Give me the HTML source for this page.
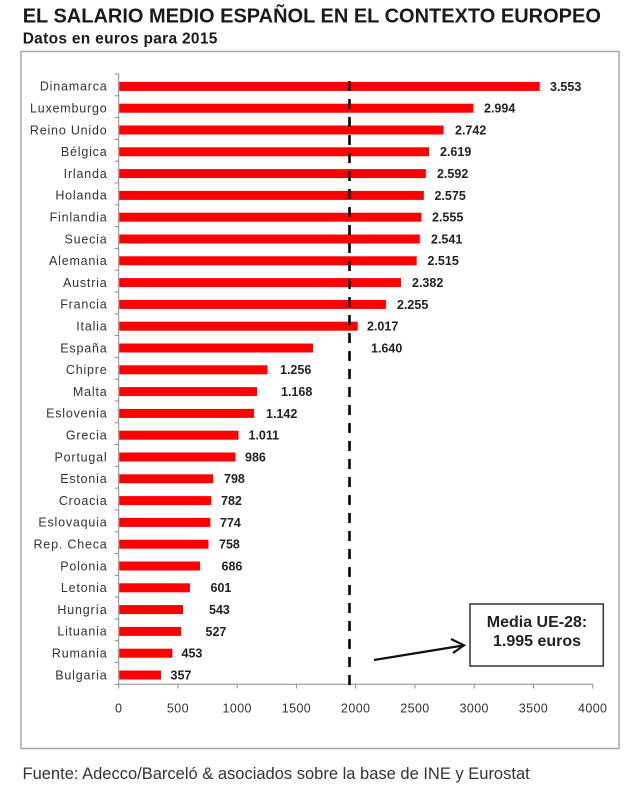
<!DOCTYPE html>
<html><head><meta charset="utf-8"><style>
html,body{margin:0;padding:0;background:#fff;}
svg{display:block;}
text{font-family:"Liberation Sans",Arial,sans-serif;}
</style></head><body>
<svg width="639" height="787" viewBox="0 0 639 787" xmlns="http://www.w3.org/2000/svg">
<rect width="639" height="787" fill="#fff"/>
<text x="22.7" y="22.7" font-size="20" font-weight="bold" fill="#1a1a1a">EL SALARIO MEDIO ESPAÑOL EN EL CONTEXTO EUROPEO</text>
<text x="22.7" y="43.3" font-size="15.5" font-weight="bold" fill="#1a1a1a" letter-spacing="0.3">Datos en euros para 2015</text>
<rect x="21" y="51.5" width="598" height="697" fill="#fff" stroke="#a8a8a8" stroke-width="1.5"/>
<g id="bars" fill="#ff0000"></g>
<g id="axes" stroke="#8c8c8c" stroke-width="1" fill="none">
<line x1="118.7" y1="74" x2="118.7" y2="684.3"/>
<line x1="118.7" y1="684.3" x2="593" y2="684.3"/>
</g>
<g id="content"></g>
<line x1="349.5" y1="685" x2="349.5" y2="74" stroke="#000" stroke-width="2.6" stroke-dasharray="10 8"/>
<rect x="470" y="604" width="133.3" height="62" fill="#fff" stroke="#333" stroke-width="1.5"/>
<text x="537" y="627" font-size="16" font-weight="bold" fill="#222" text-anchor="middle">Media UE-28:</text>
<text x="537" y="646" font-size="16" font-weight="bold" fill="#222" text-anchor="middle">1.995 euros</text>
<line x1="374" y1="660" x2="463" y2="645.5" stroke="#111" stroke-width="2.2"/>
<polyline points="451,639 464,645.3 453,653" fill="none" stroke="#111" stroke-width="2.2"/>
<text x="22.5" y="779" font-size="16.5" fill="#333">Fuente: Adecco/Barceló &amp; asociados sobre la base de INE y Eurostat</text>
</svg>
<script>
(function(){
var ns="http://www.w3.org/2000/svg";
var names=["Dinamarca","Luxemburgo","Reino Unido","Bélgica","Irlanda","Holanda","Finlandia","Suecia","Alemania","Austria","Francia","Italia","España","Chipre","Malta","Eslovenia","Grecia","Portugal","Estonia","Croacia","Eslovaquia","Rep. Checa","Polonia","Letonia","Hungría","Lituania","Rumania","Bulgaria"];
var vals=[3553,2994,2742,2619,2592,2575,2555,2541,2515,2382,2255,2017,1640,1256,1168,1142,1011,986,798,782,774,758,686,601,543,527,453,357];
var lx=[550,484,455,440,437,434.5,432,431,427.5,412,397,367,371,280,281,266,248.5,245,224,221,220,219,221.5,210.5,209,205.5,181.5,170.5];
var bars=document.getElementById("bars"),content=document.getElementById("content"),axes=document.getElementById("axes");
function fmt(v){var s=String(v);return s.length>3?s.slice(0,s.length-3)+"."+s.slice(-3):s;}
var step=21.8;
for(var i=0;i<names.length;i++){
 var c=75.5+step*(i+0.5);
 var w=vals[i]*0.1185;
 var r=document.createElementNS(ns,"rect");
 r.setAttribute("x",119.2);r.setAttribute("y",c-4.5);r.setAttribute("width",w-0.5);r.setAttribute("height",9);
 bars.appendChild(r);
 var t=document.createElementNS(ns,"text");
 t.setAttribute("x",107.5);t.setAttribute("y",c+4.3);t.setAttribute("font-size","12.5");t.setAttribute("fill","#333");
 t.setAttribute("text-anchor","end");t.setAttribute("letter-spacing","0.8");
 t.textContent=names[i];content.appendChild(t);
 var v=document.createElementNS(ns,"text");
 v.setAttribute("x",lx[i]);v.setAttribute("y",c+4.4);v.setAttribute("font-size","12.5");v.setAttribute("font-weight","bold");v.setAttribute("fill","#222");
 v.textContent=fmt(vals[i]);content.appendChild(v);
}
for(var k=0;k<=28;k++){
 var y=74+k*(610.3/28);
 var l=document.createElementNS(ns,"line");
 l.setAttribute("x1",114.7);l.setAttribute("x2",118.7);l.setAttribute("y1",y);l.setAttribute("y2",y);
 axes.appendChild(l);
}
for(var j=0;j<=8;j++){
 var x=118.7+j*59.25;
 var l2=document.createElementNS(ns,"line");
 l2.setAttribute("x1",x);l2.setAttribute("x2",x);l2.setAttribute("y1",684.3);l2.setAttribute("y2",688.5);
 axes.appendChild(l2);
 var tt=document.createElementNS(ns,"text");
 tt.setAttribute("x",x);tt.setAttribute("y",712.5);tt.setAttribute("font-size","12.5");tt.setAttribute("fill","#333");
 tt.setAttribute("text-anchor","middle");tt.setAttribute("letter-spacing","0.4");
 tt.textContent=String(j*500);content.appendChild(tt);
}
})();
</script>
</body></html>
